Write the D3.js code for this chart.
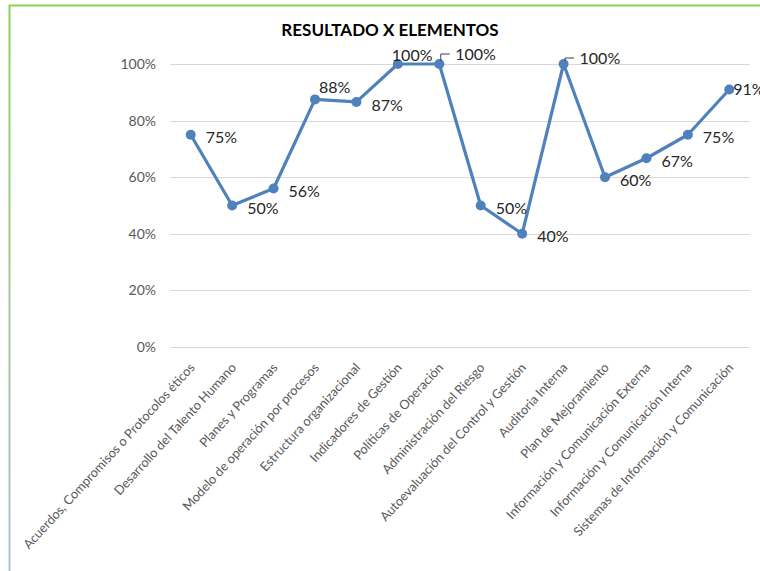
<!DOCTYPE html>
<html lang="es">
<head>
<meta charset="UTF-8">
<title>Resultado x elementos</title>
<script src="https://cdn.jsdelivr.net/npm/d3@7"></script>
<style>
  body { margin: 0; background: #fff; }
  svg { display: block; font-family: Lato, "Liberation Sans", sans-serif; }
  .grid line { stroke: #d9d9d9; stroke-width: 1px; }
  .axis text { fill: #595959; }
  path.serie { fill: none; stroke: #4f81bd; stroke-width: 3.2px; stroke-linejoin: round; }
  circle.punto { fill: #4f81bd; }
  text.etiqueta { fill: #262626; font-size: 16px; }
  path.guia { fill: none; stroke: #404040; stroke-width: 1px; }
</style>
</head>
<body>
<svg width="760" height="571"></svg>
<script>
// datos
const categorias = [
  "Acuerdos, Compromisos o Protocolos éticos",
  "Desarrollo del Talento Humano",
  "Planes y Programas",
  "Modelo de operación por procesos",
  "Estructura organizacional",
  "Indicadores de Gestión",
  "Políticas de Operación",
  "Administración del Riesgo",
  "Autoevaluación del Control y Gestión",
  "Auditoria Interna",
  "Plan de Mejoramiento",
  "Información y Comunicación Externa",
  "Información y Comunicación Interna",
  "Sistemas de Información y Comunicación"
];
const resultados = [0.75, 0.50, 0.56, 0.875, 0.866, 1.00, 1.00, 0.50, 0.40, 1.00, 0.60, 0.667, 0.75, 0.91];
const ticksY = [0, 0.2, 0.4, 0.6, 0.8, 1.0];
// donde va cada etiqueta de dato
const ubicacion = ["right", "right", "right", "above", "right", "top", "leaderHigh",
                   "right", "right", "leaderLow", "right", "right", "right", "near"];

const svg = d3.select("svg");
const W = 760, H = 571;
const plot = { left: 170, right: 750, top: 64, bottom: 347 };

// marco
const grad = svg.append("defs").append("linearGradient")
  .attr("id", "borde").attr("x1", 0).attr("y1", 0).attr("x2", 0).attr("y2", 1);
grad.append("stop").attr("offset", "0%").attr("stop-color", "#92d050");
grad.append("stop").attr("offset", "100%").attr("stop-color", "#a9c6d9");
svg.append("line").attr("x1", 9).attr("x2", W).attr("y1", 5.5).attr("y2", 5.5)
  .attr("stroke", "#92d050").attr("stroke-width", 2);
svg.append("rect").attr("x", 8.5).attr("y", 5).attr("width", 2).attr("height", H - 5)
  .attr("fill", "url(#borde)");

// titulo
svg.append("text").attr("x", 390).attr("y", 36)
  .attr("text-anchor", "middle").attr("font-weight", "bold")
  .attr("font-size", 17).attr("fill", "#000")
  .text("RESULTADO X ELEMENTOS");

// escalas
const x = d3.scaleBand().domain(categorias).range([plot.left, plot.right]);
const y = d3.scaleLinear().domain([0, 1]).range([plot.bottom, plot.top]);
const cx = d => x(d) + x.bandwidth() / 2;

// rejilla
svg.append("g").attr("class", "grid")
  .selectAll("line").data(ticksY).join("line")
  .attr("x1", plot.left).attr("x2", plot.right)
  .attr("y1", d => Math.round(y(d)) + 0.5).attr("y2", d => Math.round(y(d)) + 0.5);

// eje y
const ejeY = svg.append("g").attr("class", "axis")
  .attr("transform", `translate(${plot.left - 14},0)`)
  .call(d3.axisLeft(y).tickValues(ticksY).tickFormat(d3.format(".0%")).tickSize(0).tickPadding(0));
ejeY.select(".domain").remove();
ejeY.selectAll("text").attr("font-size", 14).attr("font-family", "Lato, sans-serif");

// eje x con etiquetas giradas
const ejeX = svg.append("g").attr("class", "axis")
  .attr("transform", `translate(0,${plot.bottom})`)
  .call(d3.axisBottom(x).tickSize(0));
ejeX.select(".domain").remove();
ejeX.selectAll("text")
  .attr("font-size", 12.8).attr("font-family", "Lato, sans-serif")
  .attr("text-anchor", "end")
  .attr("y", 0).attr("dy", "0.71em")
  .attr("transform", "translate(-2,15) rotate(-47.5)");

// linea
const datos = categorias.map((c, i) => ({ c, v: resultados[i], pos: ubicacion[i] }));
const linea = d3.line().x(d => cx(d.c)).y(d => y(d.v));
svg.append("path").datum(datos).attr("class", "serie").attr("d", linea);
svg.selectAll("circle.punto").data(datos).join("circle")
  .attr("class", "punto").attr("r", 5)
  .attr("cx", d => cx(d.c)).attr("cy", d => y(d.v));

// etiquetas de datos
const desplaz = {
  right: [15, 3], above: [4, -12], top: [-6, -9],
  leaderHigh: [16, -10], leaderLow: [16, -6], near: [4, 0]
};
svg.selectAll("path.guia").data(datos.filter(d => d.pos.startsWith("leader"))).join("path")
  .attr("class", "guia")
  .attr("d", d => {
    const px = cx(d.c) + 1.5, py = y(d.v), off = desplaz[d.pos][1];
    return `M${px},${py - 3}V${py + off}H${px + 9}`;
  });
svg.selectAll("text.etiqueta").data(datos).join("text")
  .attr("class", "etiqueta")
  .attr("x", d => cx(d.c) + desplaz[d.pos][0])
  .attr("y", d => y(d.v) + desplaz[d.pos][1])
  .attr("dy", "0.35em")
  .text(d => d3.format(".0%")(d.v));
</script>
</body>
</html>
